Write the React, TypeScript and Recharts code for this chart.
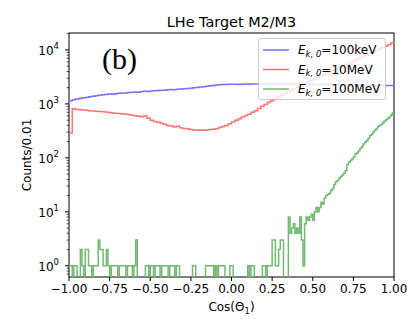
import { LineChart, Line, XAxis, YAxis, Legend, Customized } from 'recharts';

// histogram bin contents, Cos(Theta_1) from -1 to 1
const coarseBin = 0.02;
const fineBin = 0.01;

const blueCounts = [
  1150, 1190, 1230, 1260, 1300, 1320, 1350, 1390, 1410, 1450,
  1470, 1490, 1520, 1510, 1550, 1570, 1580, 1600, 1620, 1640,
  1660, 1650, 1690, 1710, 1700, 1740, 1750, 1770, 1790, 1800,
  1820, 1840, 1830, 1870, 1880, 1900, 1930, 1960, 1990, 2020,
  2050, 2090, 2120, 2160, 2200, 2240, 2270, 2290, 2300, 2310,
  2320, 2310, 2290, 2320, 2330, 2310, 2340, 2350, 2330, 2350,
  2360, 2340, 2350, 2370, 2340, 2350, 2360, 2330, 2350, 2340,
  2330, 2320, 2340, 2310, 2300, 2320, 2300, 2290, 2310, 2280,
  2280, 2270, 2290, 2260, 2250, 2270, 2240, 2250, 2230, 2240,
  2230, 2220, 2230, 2210, 2220, 2200, 2210, 2190, 2200, 2190,
];

const redCounts = [
  290, 810, 790, 780, 770, 760, 745, 740, 730, 720,
  715, 705, 690, 680, 670, 665, 655, 645, 635, 615,
  600, 590, 580, 600, 540, 500, 470, 455, 440, 420,
  400, 390, 375, 385, 360, 350, 345, 335, 330, 325,
  330, 325, 330, 335, 340, 345, 365, 380, 400, 430,
  460, 500, 530, 570, 610, 640, 700, 750, 820, 900,
  980, 1060, 1150, 1240, 1340, 1440, 1540, 1680, 1820, 1920,
  2050, 2200, 2350, 2500, 2700, 2850, 3050, 3250, 3450, 3700,
  3950, 4200, 4500, 4800, 5100, 5450, 5800, 6200, 6600, 7000,
  7500, 8000, 8500, 9100, 9700, 10300, 11000, 11700, 12500, 13400,
];

const greenCounts = [
  1, 1, 0, 1, 1, 0, 0, 2, 1, 0,
  2, 2, 1, 1, 0, 1, 1, 1, 3, 2,
  2, 1, 1, 2, 1, 0, 1, 1, 1, 1,
  0, 1, 1, 1, 1, 0, 1, 1, 1, 0,
  1, 3, 0, 0, 0, 0, 0, 1, 1, 0,
  1, 1, 0, 1, 1, 1, 0, 1, 1, 1,
  1, 0, 1, 1, 1, 0, 1, 1, 0, 0,
  0, 0, 0, 0, 0, 0, 1, 1, 0, 0,
  0, 0, 0, 0, 1, 1, 1, 1, 1, 0,
  1, 0, 1, 1, 1, 1, 0, 0, 0, 1,
  1, 0, 0, 0, 0, 0, 0, 0, 0, 0,
  1, 0, 1, 1, 0, 0, 0, 0, 0, 1,
  1, 0, 1, 1, 1, 3, 3, 1, 1, 2,
  3, 3, 0, 0, 0, 8, 4, 5, 6, 4,
  5, 4, 8, 3, 1, 6, 8, 7, 8, 9,
  7, 10, 12, 10, 12, 15, 14, 18, 20, 21,
  22, 25, 27, 32, 36, 38, 42, 45, 48, 52,
  58, 75, 83, 89, 95, 105, 119, 125, 135, 149,
  160, 181, 195, 210, 230, 261, 275, 300, 324, 350,
  380, 400, 420, 450, 480, 510, 540, 571, 620, 680,
];

const energyLabels = ['100keV', '10MeV', '100MeV'];
const seriesColors = ['#7373ff', '#ff7373', '#73b973'];

const xTicks = [-1, -0.75, -0.5, -0.25, 0, 0.25, 0.5, 0.75, 1];
const yDecades = [1, 10, 100, 1000, 10000];
const yDomain = [0.62, 20600];

// empty bins can't sit on a log axis, push them below the frame
const EMPTY = 0.01;

const W = 407;
const H = 326;
const PLOT_LEFT = 69;
const PLOT_TOP = 33;
const PLOT_RIGHT = 394;
const PLOT_BOTTOM = 277;
const FONT = 'DejaVu Sans';

function toSteps(counts: number[], width: number) {
  const pts = counts.map((c, i) => ({ x: -1 + i * width, y: c > 0 ? c : EMPTY }));
  pts.push({ x: 1, y: pts[pts.length - 1].y });
  return pts;
}

const histos = [
  toSteps(blueCounts, coarseBin),
  toSteps(redCounts, coarseBin),
  toSteps(greenCounts, fineBin),
];

// major + minor log ticks inside the domain
const yTicks = [0.1, ...yDecades]
  .flatMap((d) => [1, 2, 3, 4, 5, 6, 7, 8, 9].map((m) => m * d))
  .filter((v) => v >= yDomain[0] && v <= yDomain[1]);

const fmtX = (v: number) => v.toFixed(2).replace('-', '\u2212');

function YTick(props: any) {
  const { y, payload } = props;
  const v = payload.value;
  const exp = Math.round(Math.log10(v));
  const major = Math.abs(v - Math.pow(10, exp)) < 1e-6 * v;
  return (
    <g>
      <line x1={PLOT_LEFT - (major ? 4 : 2.4)} x2={PLOT_LEFT} y1={y} y2={y} stroke="#000" strokeWidth={major ? 1 : 0.7} />
      {major && (
        <text x={PLOT_LEFT - 10} y={y + 5} textAnchor="end" fontSize={12} fontFamily={FONT} fill="#000">
          10
          <tspan dy={-6} fontSize={8.5}>
            {exp}
          </tspan>
        </text>
      )}
    </g>
  );
}

function Annotations() {
  const cx = (PLOT_LEFT + PLOT_RIGHT) / 2;
  const cy = (PLOT_TOP + PLOT_BOTTOM) / 2;
  return (
    <g>
      <rect
        x={PLOT_LEFT}
        y={PLOT_TOP}
        width={PLOT_RIGHT - PLOT_LEFT}
        height={PLOT_BOTTOM - PLOT_TOP}
        fill="none"
        stroke="#000"
        strokeWidth={1}
      />
      <text x={cx} y={27} textAnchor="middle" fontSize={14.4} fontFamily={FONT} fill="#000">
        LHe Target M2/M3
      </text>
      <text x={cx} y={311} textAnchor="middle" fontSize={12} fontFamily={FONT} fill="#000">
        Cos(Θ<tspan dy={3} fontSize={8.5}>1</tspan>
        <tspan dy={-3}>)</tspan>
      </text>
      <text
        x={27}
        y={cy}
        textAnchor="middle"
        dominantBaseline="central"
        fontSize={12}
        fontFamily={FONT}
        fill="#000"
        transform={`rotate(-90 27 ${cy})`}
      >
        Counts/0.01
      </text>
      <text x={102} y={69} fontSize={30} fontFamily="Liberation Serif" fill="#000">
        (b)
      </text>
    </g>
  );
}

function LegendBox() {
  return (
    <div
      style={{
        width: 128,
        height: 62,
        boxSizing: 'border-box',
        background: 'rgba(255,255,255,0.8)',
        border: '1px solid #cccccc',
        borderRadius: 3,
      }}
    >
      <svg width={126} height={60} style={{ display: 'block' }}>
        {energyLabels.map((label, i) => {
          const cy = 11 + i * 19.5;
          return (
            <g key={label}>
              <line x1={4} x2={30} y1={cy} y2={cy} stroke={seriesColors[i]} strokeWidth={1.5} />
              <text x={39} y={cy + 4.3} fontSize={12} fontFamily={FONT} fill="#000">
                <tspan fontStyle="italic">E</tspan>
                <tspan fontStyle="italic" fontSize={8.5} dy={2.5}>
                  k, 0
                </tspan>
                <tspan dy={-2.5}>={label}</tspan>
              </text>
            </g>
          );
        })}
      </svg>
    </div>
  );
}

export default function App() {
  return (
    <div style={{ position: 'absolute', left: 0, top: 0, background: '#fff' }}>
      <LineChart width={W} height={H} margin={{ top: PLOT_TOP, right: W - PLOT_RIGHT, bottom: 0, left: 0 }}>
        <XAxis
          type="number"
          dataKey="x"
          domain={[-1, 1]}
          ticks={xTicks}
          interval={0}
          tickFormatter={fmtX}
          height={H - PLOT_BOTTOM}
          axisLine={false}
          tickLine={{ stroke: '#000' }}
          tickSize={4}
          tickMargin={3}
          tick={{ fill: '#000', fontSize: 12, fontFamily: FONT }}
        />
        <YAxis
          type="number"
          scale="log"
          domain={yDomain}
          allowDataOverflow
          ticks={yTicks}
          interval={0}
          width={PLOT_LEFT}
          axisLine={false}
          tickLine={false}
          tick={<YTick />}
        />
        {histos.map((pts, i) => (
          <Line
            key={energyLabels[i]}
            data={pts}
            dataKey="y"
            type="stepAfter"
            stroke={seriesColors[i]}
            strokeWidth={1.5}
            dot={false}
            activeDot={false}
            isAnimationActive={false}
          />
        ))}
        <Customized component={Annotations} />
        <Legend
          verticalAlign="middle"
          align="center"
          layout="horizontal"
          content={() => <LegendBox />}
          wrapperStyle={{ left: 258, top: 38, width: 128, height: 62 }}
        />
      </LineChart>
    </div>
  );
}
